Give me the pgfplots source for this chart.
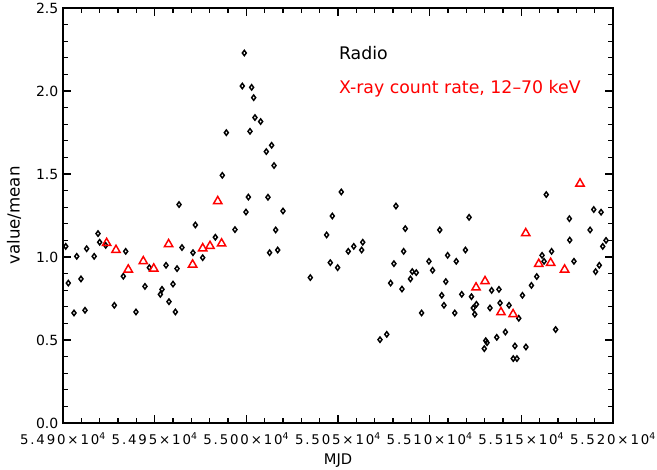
\documentclass[border=0pt]{standalone}
\usepackage{fontspec}
\setmainfont{DejaVu Sans}
\newfontfamily\xtickfont[LetterSpace=14]{DejaVu Sans}
\usepackage{pgfplots}
\pgfplotsset{compat=1.18}

% radio flux normalised to mean
\pgfplotstableread{
x y
54901.5 1.064
54902.9 0.843
54906.0 0.663
54907.5 1.004
54909.8 0.868
54912.0 0.679
54912.9 1.050
54917.0 1.004
54919.1 1.141
54920.0 1.089
54923.3 1.070
54928.0 0.709
54932.9 0.884
54934.2 1.034
54939.8 0.669
54944.7 0.823
54947.1 0.936
54953.1 0.775
54954.0 0.805
54956.2 0.950
54957.8 0.731
54960.0 0.837
54961.3 0.669
54962.2 0.930
54963.3 1.316
54964.9 1.057
54970.9 1.026
54972.2 1.193
54976.2 0.996
54983.1 1.119
54986.9 1.492
54989.1 1.749
54993.8 1.165
54997.8 2.030
54998.9 2.229
54999.8 1.271
55001.1 1.361
55002.0 1.757
55002.9 2.022
55004.0 1.960
55004.7 1.840
55007.8 1.816
55010.9 1.635
55011.8 1.360
55012.7 1.026
55013.8 1.673
55015.1 1.551
55016.0 1.163
55017.1 1.042
55020.0 1.277
55034.9 0.876
55043.8 1.133
55045.8 0.966
55046.9 1.247
55049.8 0.936
55051.8 1.392
55055.6 1.034
55058.6 1.064
55062.9 1.042
55063.5 1.089
55072.9 0.502
55076.6 0.534
55078.7 0.843
55080.5 0.960
55081.6 1.307
55084.9 0.807
55085.8 1.034
55086.7 1.171
55089.5 0.868
55090.5 0.912
55092.7 0.906
55095.6 0.663
55099.6 0.974
55101.6 0.920
55105.5 1.163
55106.6 0.769
55107.8 0.709
55108.8 0.852
55109.8 1.010
55113.7 0.663
55114.5 0.974
55117.5 0.775
55119.5 1.042
55121.5 1.239
55122.8 0.761
55123.8 0.693
55124.6 0.655
55125.5 0.715
55129.8 0.448
55130.6 0.496
55131.3 0.484
55132.9 0.693
55133.8 0.799
55136.6 0.516
55137.8 0.805
55138.4 0.723
55141.3 0.548
55143.3 0.709
55145.6 0.388
55147.6 0.388
55146.5 0.464
55148.6 0.631
55150.6 0.769
55152.5 0.458
55155.5 0.829
55158.4 0.882
55161.3 1.010
55162.4 0.974
55163.6 1.376
55166.5 1.034
55168.7 0.563
55176.2 1.231
55176.4 1.102
55178.7 0.974
55187.5 1.163
55189.5 1.286
55190.5 0.912
55192.5 0.950
55193.5 1.270
55194.4 1.064
55196.2 1.100
}\radio

% X-ray count rate 12-70 keV normalised to mean
\pgfplotstableread{
x y
54923.8 1.084
54928.9 1.042
54935.6 0.924
54943.8 0.974
54949.5 0.930
54957.6 1.077
54970.7 0.954
54976.2 1.052
54980.2 1.066
54984.4 1.336
54986.5 1.081
55125.3 0.816
55130.2 0.854
55138.9 0.667
55145.5 0.655
55152.4 1.143
55159.5 0.958
55166.0 0.964
55173.6 0.924
55182.0 1.442
}\xray

\begin{document}
\begin{tikzpicture}
\begin{axis}[
  scale only axis,
  width=412.5pt, height=311.25pt,
  xmin=54900, xmax=55200, ymin=0, ymax=2.5,
  scaled x ticks=false,
  xtick={54900,54950,55000,55050,55100,55150,55200},
  xticklabels={5.490×10\textsuperscript{4},5.495×10\textsuperscript{4},5.500×10\textsuperscript{4},5.505×10\textsuperscript{4},5.510×10\textsuperscript{4},5.515×10\textsuperscript{4},5.520×10\textsuperscript{4}},
  ytick={0,0.5,1,1.5,2,2.5},
  minor x tick num=4, minor y tick num=4,
  tick align=inside, tick pos=both,
  major tick length=6pt, minor tick length=3.5pt,
  every tick/.style={black, line width=0.8pt},
  axis line style={line width=1pt},
  yticklabel style={font=\fontsize{10.5}{12}\selectfont,
    /pgf/number format/.cd, fixed, fixed zerofill, precision=1, assume math mode=true},
  xticklabel style={font=\xtickfont\fontsize{10}{12}\selectfont, yshift=-4pt},
  xlabel={MJD}, ylabel={value/mean},
  every axis x label/.style={at={(axis description cs:0.5,-0.091)},anchor=center,
    font=\fontsize{11}{13}\selectfont},
  every axis y label/.style={at={(axis description cs:-0.089,0.5)},rotate=90,anchor=center,
    font=\fontsize{12.5}{15}\selectfont},
  clip=false,
]
\addplot[only marks, mark=diamond, mark size=2pt, line width=1.1pt, black] table {\radio};
\addplot[only marks, mark=triangle, mark size=3.6pt, line width=1.1pt, red] table {\xray};
\node[anchor=west, font=\fontsize{13}{15}\selectfont, black] at (axis cs:55048,2.23) {Radio};
\node[anchor=west, font=\fontsize{13}{15}\selectfont, red] at (axis cs:55048,2.015) {X-ray count rate, 12–70 keV};
\end{axis}
\pgfresetboundingbox
\path (-47.25pt,-34.5pt) rectangle (445.5pt,317.25pt);
\end{tikzpicture}
\end{document}
